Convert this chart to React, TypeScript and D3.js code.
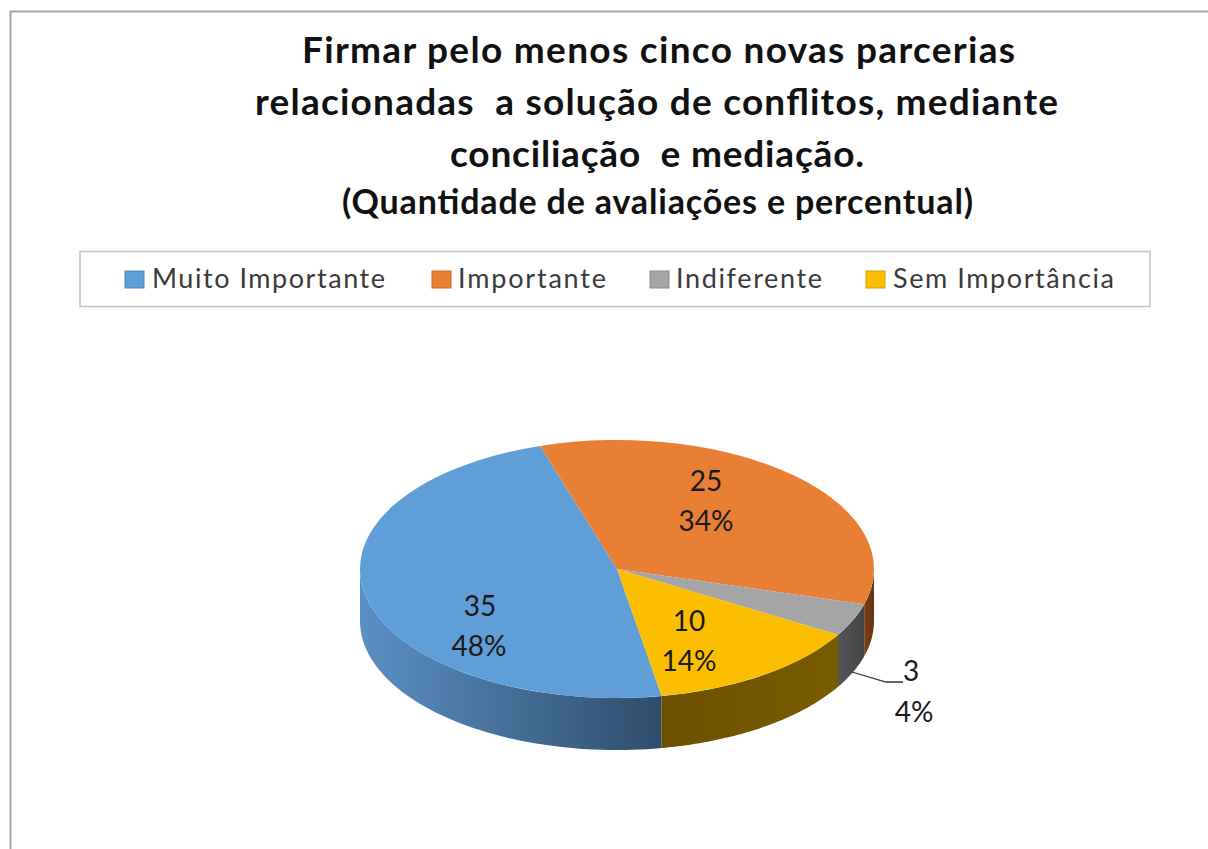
import React from "react";
import * as d3 from "d3";

const categories = ["Muito Importante", "Importante", "Indiferente", "Sem Importância"];
const counts = [35, 25, 3, 10];
const percentLabels = ["48%", "34%", "4%", "14%"];
const topColors = ["#5F9ED7", "#E97F35", "#A5A5A5", "#FBBE00"];
const titleLines = [
  "Firmar pelo menos cinco novas parcerias",
  "relacionadas  a solução de conflitos, mediante",
  "conciliação  e mediação.",
  "(Quantidade de avaliações e percentual)",
];

const WIDTH = 1208;
const HEIGHT = 849;
const CX = 617;
const CY = 569;
const RX = 257;
const RY = 129;
const DEPTH = 52;
const START = (170 * Math.PI) / 180;
const FONT = "Lato, 'Open Sans', sans-serif";

const titleLayout = [
  { x: 302, w: 713, y: 63, size: 37 },
  { x: 255, w: 803, y: 115, size: 37 },
  { x: 450, w: 414, y: 167, size: 37 },
  { x: 342, w: 631, y: 214, size: 34 },
];
const legendLayout = [
  { sx: 125, tx: 152, tw: 233 },
  { sx: 432, tx: 458, tw: 148 },
  { sx: 650, tx: 676, tw: 146 },
  { sx: 866, tx: 893, tw: 221 },
];
// label centres
const labelPlaces = [
  { x1: 480, y1: 605, x2: 479, y2: 645 },
  { x1: 706, y1: 480, x2: 706, y2: 520 },
  { x1: 911, y1: 670, x2: 914, y2: 711 },
  { x1: 689, y1: 620, x2: 689, y2: 660 },
];
const wallShade: [string, string, string][] = [
  ["blueWall", "#5B90C4", "#2E4D6B"],
  ["orangeWall", "#7A3F18", "#663414"],
  ["grayWall", "#555555", "#444444"],
  ["yellowWall", "#6B5000", "#7A5C00"],
];

const pie = d3
  .pie<number>()
  .sort(null)
  .startAngle(START)
  .endAngle(START + 2 * Math.PI);
const arcs = pie(counts);

// d3 angles are clockwise from north; keep only the front half of the rim
const rimPoint = (a: number): [number, number] => [CX + RX * Math.sin(a), CY - RY * Math.cos(a)];
const frontRange = (a0: number, a1: number): [number, number] | null => {
  for (const shift of [0, -2 * Math.PI]) {
    const lo = Math.max(a0 + shift, Math.PI / 2);
    const hi = Math.min(a1 + shift, (3 * Math.PI) / 2);
    if (hi > lo) return [lo, hi];
  }
  return null;
};
const wallPath = (lo: number, hi: number) => {
  const pts = d3.range(0, 61).map((i) => rimPoint(lo + ((hi - lo) * i) / 60));
  const ring: [number, number][] = [
    ...pts,
    ...pts.slice().reverse().map(([x, y]) => [x, y + DEPTH] as [number, number]),
  ];
  return d3.line()(ring) + "Z";
};

export default function App() {
  const arcGen = d3.arc<d3.PieArcDatum<number>>().innerRadius(0).outerRadius(RX);
  const leader = d3.line()([
    [852, 672],
    [886, 682],
    [903, 682],
  ]);
  return (
    <svg
      width={WIDTH}
      height={HEIGHT}
      viewBox={`0 0 ${WIDTH} ${HEIGHT}`}
      style={{ position: "absolute", left: 0, top: 0, background: "#fff" }}
    >
      <defs>
        {arcs.map((d, i) => {
          const r = frontRange(d.startAngle, d.endAngle);
          if (!r) return null;
          const xs = [rimPoint(r[0])[0], rimPoint(r[1])[0]];
          const [id, a, b] = wallShade[i];
          return (
            <linearGradient
              key={id}
              id={id}
              gradientUnits="userSpaceOnUse"
              x1={Math.min(...xs)}
              x2={Math.max(...xs)}
              y1={0}
              y2={0}
            >
              <stop offset="0%" stopColor={a} />
              <stop offset="100%" stopColor={b} />
            </linearGradient>
          );
        })}
      </defs>

      <path d={`M10.5 849V11.5H${WIDTH}`} fill="none" stroke="#a3a3a3" strokeWidth={2} />

      {titleLines.map((t, i) => (
        <text
          key={i}
          x={titleLayout[i].x}
          y={titleLayout[i].y}
          textLength={titleLayout[i].w}
          lengthAdjust="spacing"
          fontFamily={FONT}
          fontWeight={700}
          fontSize={titleLayout[i].size}
          fill="#111"
          style={{ whiteSpace: "pre" }}
        >
          {t}
        </text>
      ))}

      <rect x={80} y={251.5} width={1070} height={55} fill="#fff" stroke="#c4c4c4" strokeWidth={1.5} />
      {categories.map((c, i) => (
        <g key={c}>
          <rect
            x={legendLayout[i].sx}
            y={271}
            width={19}
            height={17}
            fill={topColors[i]}
            stroke={d3.color(topColors[i])!.darker(0.5).formatHex()}
            strokeWidth={1}
          />
          <text
            x={legendLayout[i].tx}
            y={288}
            textLength={legendLayout[i].tw}
            lengthAdjust="spacing"
            fontFamily={FONT}
            fontSize={27}
            fill="#3a3a3a"
          >
            {c}
          </text>
        </g>
      ))}

      {arcs.map((d, i) => {
        const r = frontRange(d.startAngle, d.endAngle);
        return r ? <path key={i} d={wallPath(r[0], r[1])} fill={`url(#${wallShade[i][0]})`} /> : null;
      })}
      {arcs.map((d, i) => (
        <path
          key={i}
          d={arcGen(d) as string}
          fill={topColors[i]}
          transform={`translate(${CX},${CY}) scale(1,${RY / RX})`}
        />
      ))}

      <path d={leader as string} fill="none" stroke="#333" strokeWidth={1.3} />

      {counts.map((v, i) => (
        <g
          key={i}
          fontFamily={FONT}
          fontSize={28}
          fill="#1a1a1a"
          textAnchor="middle"
          dominantBaseline="central"
        >
          <text x={labelPlaces[i].x1} y={labelPlaces[i].y1}>
            {v}
          </text>
          <text x={labelPlaces[i].x2} y={labelPlaces[i].y2}>
            {percentLabels[i]}
          </text>
        </g>
      ))}
    </svg>
  );
}
